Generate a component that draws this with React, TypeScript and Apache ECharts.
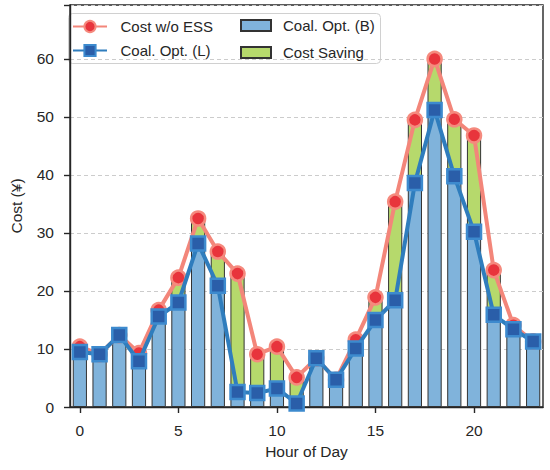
import React, { useEffect, useRef } from "react";
import * as echarts from "echarts";

const hours: string[] = Array.from({ length: 24 }, (_, i) => String(i));
const costWithoutESS: number[] = [10.4, 9.1, 12.4, 9.3, 16.7, 22.3, 32.5, 26.8, 23.0, 9.1, 10.4, 5.1, 8.4, 4.7, 11.6, 18.9, 35.4, 49.5, 60.0, 49.6, 46.8, 23.6, 14.1, 11.3];
const coalOptL: number[] = [9.5, 9.1, 12.4, 7.9, 15.6, 18.0, 28.2, 20.9, 2.6, 2.4, 3.2, 0.6, 8.4, 4.7, 10.1, 15.0, 18.4, 38.6, 51.2, 39.8, 30.2, 15.9, 13.4, 11.3];
const yTicks: number[] = [0, 10, 20, 30, 40, 50, 60];
const xTickHours: number[] = [0, 5, 10, 15, 20];

const FONT = "Liberation Sans, Arial, sans-serif";
const DARK = "#262626";

export default function App() {
  const ref = useRef<HTMLDivElement>(null);
  useEffect(() => {
    if (!ref.current) return;
    const chart = echarts.init(ref.current, undefined, { renderer: "svg" });
    const saving = costWithoutESS.map((v, i) => +(v - coalOptL[i]).toFixed(2));
    chart.setOption({
      animation: false,
      backgroundColor: "#ffffff",
      textStyle: { fontFamily: FONT },
      grid: {
        left: 63, right: 7, top: 5, bottom: 63,
        show: true, borderColor: DARK, borderWidth: 1.4, backgroundColor: "transparent",
      },
      xAxis: {
        type: "category",
        data: hours,
        boundaryGap: true,
        name: "Hour of Day",
        nameLocation: "middle",
        nameGap: 36,
        nameTextStyle: { fontSize: 15.5, color: DARK, fontFamily: FONT },
        axisLine: { show: true, lineStyle: { color: DARK, width: 1.4 } },
        axisTick: {
          show: true, alignWithLabel: true, length: 6,
          lineStyle: { color: DARK, width: 1.4 },
          interval: (idx: number) => xTickHours.includes(idx),
        },
        axisLabel: {
          fontSize: 15.5, color: DARK, margin: 15, fontFamily: FONT,
          interval: (idx: number) => xTickHours.includes(idx),
        },
        splitLine: { show: false },
      },
      yAxis: {
        type: "value",
        min: 0,
        max: 69.3,
        interval: 10,
        name: "Cost (¥)",
        nameLocation: "middle",
        nameGap: 46,
        nameTextStyle: { fontSize: 15.5, color: DARK, fontFamily: FONT },
        axisLine: { show: true, lineStyle: { color: DARK, width: 1.4 } },
        axisTick: { show: true, length: 6, lineStyle: { color: DARK, width: 1.4 } },
        axisLabel: {
          fontSize: 15.5, color: DARK, margin: 16, fontFamily: FONT,
          formatter: (v: number) => (yTicks.includes(Math.round(v * 100) / 100) ? String(v) : ""),
        },
        splitLine: { show: true, lineStyle: { color: "#cccccc", type: [4, 3], width: 1 } },
      },
      legend: [
        {
          data: ["Cost w/o ESS", "Coal. Opt. (L)"],
          orient: "vertical",
          left: 72, top: 19, padding: 0,
          itemWidth: 34, itemHeight: 14, itemGap: 9,
          textStyle: { fontSize: 15, color: DARK, fontFamily: FONT, padding: [0, 0, 0, 8.5] },
        },
        {
          data: ["Coal. Opt. (B)", "Cost Saving"],
          orient: "vertical",
          left: 240, top: 18, padding: 0,
          itemWidth: 30, itemHeight: 11, itemGap: 12,
          icon: "rect",
          textStyle: { fontSize: 15, color: DARK, fontFamily: FONT, padding: [0, 0, 0, 7] },
        },
      ],
      graphic: [
        {
          type: "rect",
          left: 68, top: 13, z: -1,
          shape: { width: 312, height: 50, r: 4 },
          style: { fill: "rgba(255,255,255,0.85)", stroke: "#d0d0d0", lineWidth: 1 },
        },
      ],
      series: [
        {
          name: "Coal. Opt. (B)",
          type: "bar",
          stack: "cost",
          data: coalOptL,
          barWidth: "72%",
          itemStyle: { color: "#80b3db", borderColor: "#333333", borderWidth: 1 },
          z: 2,
        },
        {
          name: "Cost Saving",
          type: "bar",
          stack: "cost",
          data: saving,
          barWidth: "72%",
          itemStyle: { color: "#b6d96c", borderColor: "#333333", borderWidth: 1 },
          z: 2,
        },
        {
          name: "Cost w/o ESS",
          type: "line",
          data: costWithoutESS,
          symbol: "circle",
          symbolSize: 14,
          showAllSymbol: true,
          lineStyle: { color: "#f3867a", width: 4 },
          itemStyle: { color: "#e8343c", borderColor: "#f58a7e", borderWidth: 2.5 },
          z: 3,
        },
        {
          name: "Coal. Opt. (L)",
          type: "line",
          data: coalOptL,
          symbol: "rect",
          symbolSize: 14,
          showAllSymbol: true,
          lineStyle: { color: "#2f7dbd", width: 4 },
          itemStyle: { color: "#2a5ea9", borderColor: "#3d8ace", borderWidth: 2.5 },
          z: 4,
        },
      ],
    });
    return () => chart.dispose();
  }, []);
  return (
    <div
      ref={ref}
      style={{ position: "fixed", left: 0, top: 0, width: 550, height: 470 }}
    />
  );
}
